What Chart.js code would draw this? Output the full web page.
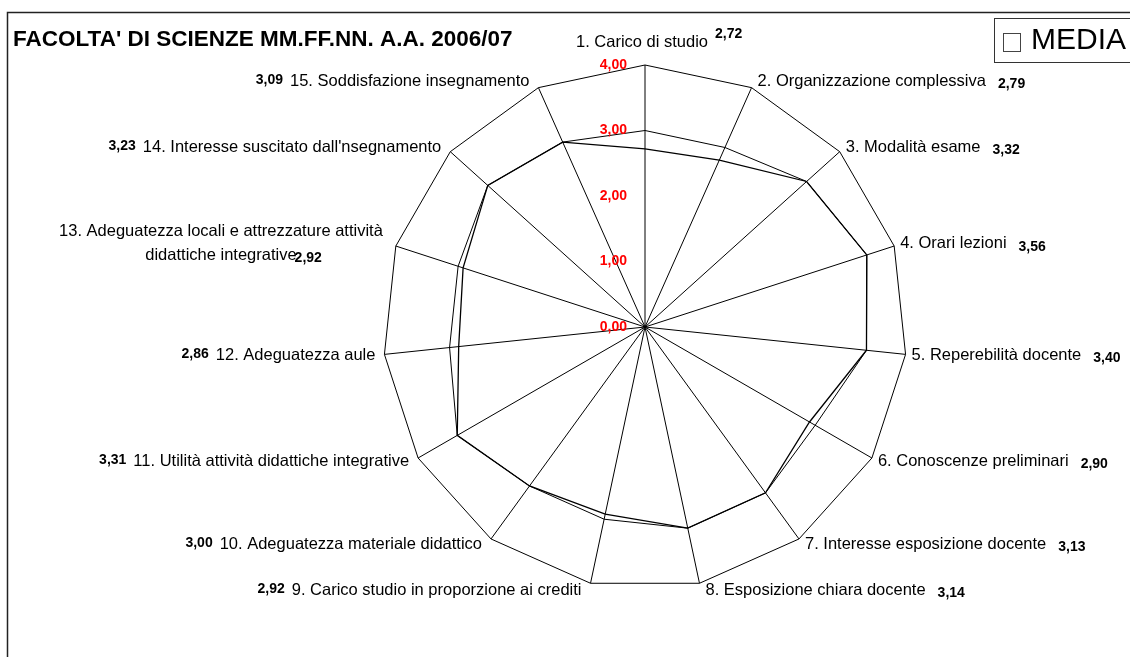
<!DOCTYPE html>
<html>
<head>
<meta charset="utf-8">
<script src="https://cdn.jsdelivr.net/npm/chart.js@4/dist/chart.umd.min.js"></script>
<style>
  html, body { margin: 0; padding: 0; background: #fff; }
</style>
</head>
<body>
<canvas id="chart" width="1130" height="657"></canvas>
<script>
// data
const chartTitle = "FACOLTA' DI SCIENZE MM.FF.NN. A.A. 2006/07";
const categories = [
  '1. Carico di studio',
  '2. Organizzazione complessiva',
  '3. Modalità esame',
  '4. Orari lezioni',
  '5. Reperebilità docente',
  '6. Conoscenze preliminari',
  '7. Interesse esposizione docente',
  '8. Esposizione chiara docente',
  '9. Carico studio in proporzione ai crediti',
  '10. Adeguatezza materiale didattico',
  '11. Utilità attività didattiche integrative',
  '12. Adeguatezza aule',
  ['13. Adeguatezza locali e attrezzature attività', 'didattiche integrative'],
  "14. Interesse suscitato dall'nsegnamento",
  '15. Soddisfazione insegnamento'
];
const mediaValues = [2.72, 2.79, 3.32, 3.56, 3.40, 2.90, 3.13, 3.14, 2.92, 3.00, 3.31, 2.86, 2.92, 3.23, 3.09];
// second (unlabelled) line visible in the picture
const secondValues = [3.00, 3.00, 3.32, 3.56, 3.40, 3.00, 3.13, 3.14, 3.00, 3.00, 3.31, 3.00, 3.00, 3.23, 3.09];
const tickValues = [0, 1, 2, 3, 4];

const FONT = '"Liberation Sans", Arial, sans-serif';

function fmt(v) {
  return v.toFixed(2).replace('.', ',');
}

// draws frame, title, legend, red tick labels and the axis labels with values
const excelLabels = {
  id: 'excelLabels',
  afterDraw(chart) {
    const ctx = chart.ctx;
    const r = chart.scales.r;
    const n = categories.length;
    ctx.save();

    // outer frame (left and top edges visible)
    ctx.strokeStyle = '#222';
    ctx.lineWidth = 1.5;
    ctx.beginPath();
    ctx.moveTo(7.5, 657);
    ctx.lineTo(7.5, 12.5);
    ctx.lineTo(1130, 12.5);
    ctx.stroke();

    // title
    ctx.fillStyle = '#000';
    ctx.font = 'bold 22.5px ' + FONT;
    ctx.textBaseline = 'middle';
    ctx.textAlign = 'left';
    ctx.fillText(chartTitle, 13, 40);

    // legend
    ctx.lineWidth = 1;
    ctx.strokeStyle = '#333';
    ctx.strokeRect(994.5, 18.5, 200, 44);
    ctx.strokeStyle = '#444';
    ctx.strokeRect(1003.5, 33.5, 17, 18);
    ctx.font = '30px ' + FONT;
    ctx.fillText(chart.data.datasets[0].label, 1031, 41);

    // tick labels
    ctx.font = 'bold 14px ' + FONT;
    ctx.fillStyle = '#ff0000';
    ctx.textAlign = 'right';
    tickValues.forEach(v => {
      const d = r.getDistanceFromCenterForValue(v);
      ctx.fillText(fmt(v), r.xCenter - 18, r.yCenter - d);
    });

    // axis labels + values
    const textFont = '16.5px ' + FONT;
    const valFont = 'bold 14px ' + FONT;
    ctx.fillStyle = '#000';
    for (let i = 0; i < n; i++) {
      const p = r.getPointPosition(i, r.drawingArea);
      const ang = i * 2 * Math.PI / n;
      const lines = [].concat(categories[i]);
      const val = fmt(mediaValues[i]);
      ctx.font = textFont;
      const widths = lines.map(l => ctx.measureText(l).width);
      const lw = Math.max(...widths);
      ctx.font = valFont;
      const y = p.y - 7 * Math.cos(ang);

      if (i === 0) {
        const tx = p.x - 3 - lw / 2;
        ctx.font = textFont;
        ctx.textAlign = 'left';
        ctx.fillText(lines[0], tx, p.y - 23);
        ctx.font = valFont;
        ctx.fillText(val, tx + lw + 7, p.y - 31);
      } else if (ang < Math.PI) {
        const tx = p.x + 6;
        ctx.font = textFont;
        ctx.textAlign = 'left';
        ctx.fillText(lines[0], tx, y);
        ctx.font = valFont;
        ctx.fillText(val, tx + lw + 12, y + 3);
      } else if (lines.length > 1) {
        const right = p.x - 13;
        const cx = right - lw / 2;
        const lh = 24;
        const y0 = y - (lines.length - 1) * lh / 2;
        ctx.font = textFont;
        ctx.textAlign = 'center';
        lines.forEach((l, k) => ctx.fillText(l, cx, y0 + k * lh));
        const last = lines.length - 1;
        ctx.font = valFont;
        ctx.textAlign = 'left';
        ctx.fillText(val, cx + widths[last] / 2 - 2, y0 + last * lh + 2);
      } else {
        const right = p.x - 9;
        ctx.font = textFont;
        ctx.textAlign = 'right';
        ctx.fillText(lines[0], right, y);
        ctx.font = valFont;
        ctx.fillText(val, right - lw - 7, y - 1);
      }
    }
    ctx.restore();
  }
};

const ctx = document.getElementById('chart').getContext('2d');
new Chart(ctx, {
  type: 'radar',
  data: {
    labels: categories,
    datasets: [
      {
        label: 'MEDIA',
        data: mediaValues,
        borderColor: '#000',
        borderWidth: 1.3,
        fill: false,
        pointRadius: 0,
        tension: 0
      },
      {
        label: '',
        data: secondValues,
        borderColor: '#000',
        borderWidth: 1,
        fill: false,
        pointRadius: 0,
        tension: 0
      }
    ]
  },
  options: {
    responsive: false,
    animation: false,
    devicePixelRatio: 1,
    layout: {
      padding: { left: 383, right: 223, top: 65, bottom: 68 }
    },
    plugins: {
      legend: { display: false },
      title: { display: false },
      tooltip: { enabled: false }
    },
    scales: {
      r: {
        min: 0,
        max: 4,
        ticks: { display: false, stepSize: 1 },
        pointLabels: { display: false },
        angleLines: { color: '#000', lineWidth: 1 },
        grid: {
          color: c => (c.tick && c.tick.value === 4) ? '#000' : 'rgba(0,0,0,0)',
          lineWidth: 1
        }
      }
    }
  },
  plugins: [excelLabels]
});
</script>
</body>
</html>
